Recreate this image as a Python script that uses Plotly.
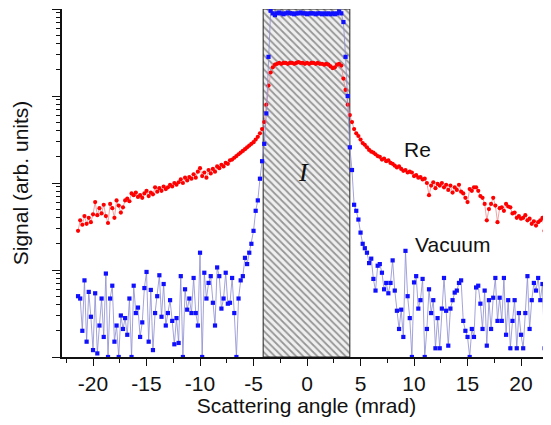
import plotly.graph_objects as go

# Scattering angle grid (mrad)
angle_mrad = [
    -21.4, -21.2, -21.0, -20.8, -20.6, -20.4, -20.2, -20.0, -19.8, -19.6,
    -19.4, -19.2, -19.0, -18.8, -18.6, -18.4, -18.2, -18.0, -17.8, -17.6,
    -17.4, -17.2, -17.0, -16.8, -16.6, -16.4, -16.2, -16.0, -15.8, -15.6,
    -15.4, -15.2, -15.0, -14.8, -14.6, -14.4, -14.2, -14.0, -13.8, -13.6,
    -13.4, -13.2, -13.0, -12.8, -12.6, -12.4, -12.2, -12.0, -11.8, -11.6,
    -11.4, -11.2, -11.0, -10.8, -10.6, -10.4, -10.2, -10.0, -9.8, -9.6,
    -9.4, -9.2, -9.0, -8.8, -8.6, -8.4, -8.2, -8.0, -7.8, -7.6,
    -7.4, -7.2, -7.0, -6.8, -6.6, -6.4, -6.2, -6.0, -5.8, -5.6,
    -5.4, -5.2, -5.0, -4.8, -4.6, -4.4, -4.2, -4.0, -3.8, -3.6,
    -3.4, -3.2, -3.0, -2.8, -2.6, -2.4, -2.2, -2.0, -1.8, -1.6,
    -1.4, -1.2, -1.0, -0.8, -0.6, -0.4, -0.2, 0.0, 0.2, 0.4,
    0.6, 0.8, 1.0, 1.2, 1.4, 1.6, 1.8, 2.0, 2.2, 2.4,
    2.6, 2.8, 3.0, 3.2, 3.4, 3.6, 3.8, 4.0, 4.2, 4.4,
    4.6, 4.8, 5.0, 5.2, 5.4, 5.6, 5.8, 6.0, 6.2, 6.4,
    6.6, 6.8, 7.0, 7.2, 7.4, 7.6, 7.8, 8.0, 8.2, 8.4,
    8.6, 8.8, 9.0, 9.2, 9.4, 9.6, 9.8, 10.0, 10.2, 10.4,
    10.6, 10.8, 11.0, 11.2, 11.4, 11.6, 11.8, 12.0, 12.2, 12.4,
    12.6, 12.8, 13.0, 13.2, 13.4, 13.6, 13.8, 14.0, 14.2, 14.4,
    14.6, 14.8, 15.0, 15.2, 15.4, 15.6, 15.8, 16.0, 16.2, 16.4,
    16.6, 16.8, 17.0, 17.2, 17.4, 17.6, 17.8, 18.0, 18.2, 18.4,
    18.6, 18.8, 19.0, 19.2, 19.4, 19.6, 19.8, 20.0, 20.2, 20.4,
    20.6, 20.8, 21.0, 21.2, 21.4, 21.6, 21.8, 22.0, 22.2, 22.4,
    22.6, 22.8,
]

# Signal with Re target (arb. units)
signal_re = [
    28.2, 37.2, 33.1, 41.7, 33.9, 39.8, 35.5, 43.7, 60.3, 42.7,
    51.3, 44.7, 56.2, 41.7, 34.7, 57.5, 51.3, 39.8, 63.1, 55.0,
    45.7, 52.5, 63.1, 66.1, 61.7, 75.9, 72.4, 77.6, 69.2, 72.4,
    67.6, 75.9, 81.3, 70.8, 77.6, 74.1, 89.1, 79.4, 87.1, 81.3,
    91.2, 85.1, 89.1, 95.5, 91.2, 100, 95.5, 102, 110, 100,
    115, 107, 117, 112, 126, 115, 135, 148, 120, 132,
    115, 141, 129, 145, 135, 155, 148, 162, 155, 170,
    166, 182, 186, 195, 204, 214, 224, 234, 245, 257,
    269, 282, 295, 316, 339, 372, 417, 501, 794, 1318,
    1862, 2138, 2291, 2344, 2399, 2344, 2399, 2399, 2344, 2399,
    2399, 2344, 2399, 2455, 2399, 2399, 2344, 2399, 2344, 2399,
    2399, 2344, 2399, 2344, 2344, 2291, 2344, 2291, 2188, 2089,
    2138, 2291, 2344, 2239, 1585, 1175, 794, 603, 501, 417,
    372, 347, 316, 288, 275, 257, 240, 229, 224, 214,
    204, 200, 186, 191, 178, 182, 170, 166, 158, 151,
    155, 145, 138, 141, 132, 135, 132, 120, 123, 115,
    117, 110, 112, 100, 72.4, 93.3, 102, 87.1, 97.7, 93.3,
    100, 89.1, 95.5, 83.2, 93.3, 77.6, 89.1, 83.2, 95.5, 79.4,
    75.9, 67.6, 60.3, 85.1, 81.3, 89.1, 89.1, 81.3, 70.8, 67.6,
    57.5, 37.2, 50.1, 57.5, 67.6, 55.0, 35.5, 51.3, 52.5, 47.9,
    57.5, 53.7, 52.5, 44.7, 45.7, 39.8, 41.7, 38.9, 39.8, 42.7,
    37.2, 38.9, 33.9, 36.3, 32.4, 35.5, 37.2, 39.8, 28.2, 21.4,
    11.2, 7.1,
]

# Signal in vacuum (arb. units)
signal_vacuum = [
    5.0, 4.7, 2.0, 7.6, 1.5, 5.6, 2.9, 1.2, 5.4, 1.1,
    2.3, 4.7, 1.7, 9.1, 1.0, 4.7, 6.6, 1.5, 2.3, 1.0,
    3.0, 2.1, 2.8, 1.8, 4.7, 1.0, 6.6, 3.2, 3.7, 1.7,
    2.5, 6.2, 9.5, 1.5, 5.9, 1.2, 3.2, 5.0, 8.7, 2.9,
    6.9, 2.3, 3.2, 4.5, 2.6, 1.4, 2.8, 1.45, 8.5, 1.0,
    6.0, 3.5, 4.7, 3.2, 8.1, 3.2, 2.3, 15.8, 1.0, 9.3,
    4.7, 7.1, 8.5, 4.2, 2.3, 10.7, 8.5, 3.6, 4.7, 9.3,
    4.1, 4.2, 8.1, 3.2, 1.0, 4.7, 7.6, 8.5, 13.8, 11.7,
    15.8, 20.0, 28.2, 47.9, 63.1, 112, 178, 282, 631, 2818,
    9550, 8913, 8511, 8913, 9120, 8913, 8710, 8913, 9120, 8913,
    8913, 8710, 8913, 8913, 9120, 8913, 8913, 8710, 8913, 8913,
    8913, 8710, 8913, 8913, 8710, 8913, 8710, 8913, 8710, 8913,
    8710, 8913, 9333, 8913, 7079, 2818, 1000, 257, 141, 56.2,
    47.9, 38.0, 26.9, 20.0, 17.8, 15.8, 12.0, 13.5, 7.9, 5.8,
    11.2, 11.7, 9.3, 6.0, 7.1, 5.4, 7.1, 12.9, 5.8, 3.4,
    2.1, 3.5, 1.7, 16.6, 5.0, 2.8, 1.0, 7.2, 8.5, 3.6,
    4.5, 7.9, 1.0, 2.1, 6.0, 3.2, 4.5, 1.26, 2.8, 1.26,
    3.6, 8.1, 3.4, 1.35, 3.6, 4.5, 5.5, 5.8, 7.1, 7.6,
    2.6, 2.0, 1.7, 1.0, 2.1, 1.7, 6.3, 6.6, 4.1, 2.1,
    5.8, 1.35, 4.5, 2.1, 4.8, 8.1, 2.6, 4.8, 2.6, 8.1,
    1.8, 4.5, 1.26, 2.6, 4.5, 1.26, 3.2, 1.8, 1.26, 3.2,
    8.5, 2.1, 4.5, 7.1, 5.8, 8.1, 4.5, 6.9, 1.26, 5.8,
    5.4, 1.8,
]

# Integration window I (mrad) and axis settings
window_mrad = [-4.1, 4.0]
signal_limits = [1, 10000]
x_tick_values = [-20, -15, -10, -5, 0, 5, 10, 15, 20]
x_tick_labels = ["-20", "-15", "-10", "-5", "0", "5", "10", "15", "20"]

FONT = "Liberation Sans, Arial, sans-serif"

fig = go.Figure()

# hatched integration window
fig.add_trace(go.Scatter(
    x=[window_mrad[0], window_mrad[1], window_mrad[1], window_mrad[0], window_mrad[0]],
    y=[signal_limits[0], signal_limits[0], signal_limits[1], signal_limits[1], signal_limits[0]],
    mode="lines", fill="toself",
    fillcolor="rgba(0,0,0,0)",
    fillpattern=dict(shape="\\", fgcolor="#3c3c3c", bgcolor="#efefef", size=5, solidity=0.35),
    line=dict(color="#222222", width=1),
    hoverinfo="skip", showlegend=False,
))

fig.add_trace(go.Scatter(
    x=angle_mrad, y=signal_re, mode="lines+markers", name="Re",
    line=dict(color="#f08a8a", width=0.8),
    marker=dict(color="#ff0000", size=4.2, symbol="circle"),
    showlegend=False,
))

fig.add_trace(go.Scatter(
    x=angle_mrad, y=signal_vacuum, mode="lines+markers", name="Vacuum",
    line=dict(color="#8c8cd0", width=0.8),
    marker=dict(color="#1010ff", size=4.2, symbol="square"),
    showlegend=False,
))

# the page body adds an 8px offset, so the figure is 8px smaller than the window
fig.update_layout(
    width=543, height=409,
    margin=dict(l=54, r=0, t=1, b=60),
    paper_bgcolor="white", plot_bgcolor="white",
    font=dict(family=FONT, size=21, color="#111111"),
    showlegend=False,
    annotations=[
        dict(text="Re", xref="paper", yref="paper", x=0.728, y=0.595,
             xanchor="center", yanchor="middle",
             showarrow=False, font=dict(family=FONT, size=21, color="#111111")),
        dict(text="Vacuum", xref="paper", yref="paper", x=0.798, y=0.322,
             xanchor="center", yanchor="middle",
             showarrow=False, font=dict(family=FONT, size=21, color="#111111")),
        dict(text="<i>I</i>", xref="paper", yref="paper", x=0.493, y=0.529,
             xanchor="center", yanchor="middle",
             showarrow=False, font=dict(family="Liberation Serif, Times New Roman, serif",
                                        size=26, color="#111111")),
    ],
)

fig.update_xaxes(
    range=[-22.9, 22.8], automargin=False,
    tickvals=x_tick_values, ticktext=x_tick_labels,
    ticks="outside", ticklen=7, tickwidth=1.2, tickcolor="#111111",
    minor=dict(ticks="outside", ticklen=4, tickwidth=1.2, tickcolor="#111111", dtick=2.5, tick0=0),
    showline=True, linecolor="#111111", linewidth=1.5,
    showgrid=False, zeroline=False, mirror=False,
    tickfont=dict(family=FONT, size=21, color="#111111"),
    title=dict(text="Scattering angle (mrad)", standoff=10,
               font=dict(family=FONT, size=21, color="#111111")),
)

y_minor = [m * 10 ** k for k in range(0, 4) for m in range(2, 10)]
fig.update_yaxes(
    type="log", range=[0, 4], automargin=False,
    tickvals=[1, 10, 100, 1000, 10000], showticklabels=False,
    ticks="outside", ticklen=8, tickwidth=1.2, tickcolor="#111111",
    minor=dict(ticks="outside", ticklen=4, tickwidth=1, tickcolor="#111111", tickvals=y_minor),
    showline=True, linecolor="#111111", linewidth=1.5,
    showgrid=False, zeroline=False, mirror=False,
    title=dict(text="Signal (arb. units)", standoff=18,
               font=dict(family=FONT, size=21, color="#111111")),
)

fig.write_html("out.html")
